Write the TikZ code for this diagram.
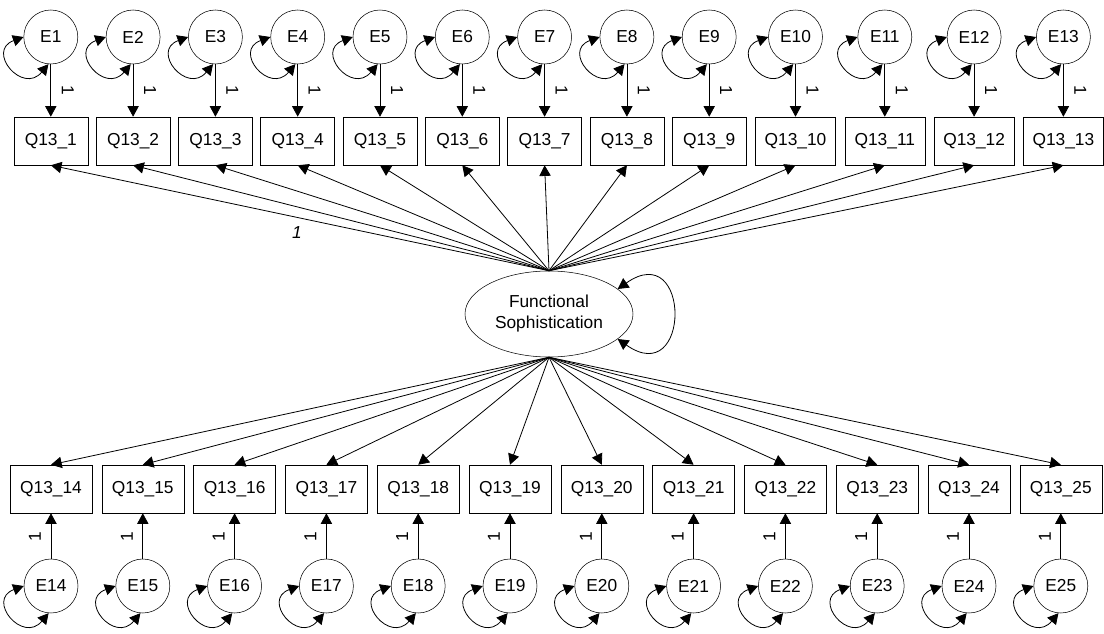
\documentclass[tikz,border=0pt]{standalone}
\usepackage{fontspec}
\setmainfont{Liberation Sans}
\usetikzlibrary{arrows.meta,shapes.geometric}

\begin{document}
\begin{tikzpicture}[x=0.75pt,y=0.75pt,
  font=\fontsize{13}{15.75}\selectfont,
  obsBox/.style={draw, rectangle, minimum width=55.5pt, minimum height=36pt, inner sep=0pt},
  errCircle/.style={draw, circle, minimum size=40.5pt, inner sep=0pt},
  latentEllipse/.style={draw, ellipse, minimum width=126pt, minimum height=64.5pt, inner sep=0pt, align=center},
  pathArrow/.style={-{Triangle[length=8pt,width=8.5pt]}, line width=0.6pt},
  covLoop/.style={{Triangle[length=8pt,width=8.5pt]}-{Triangle[length=8pt,width=8.5pt]}, line width=0.6pt}
]
  \useasboundingbox (0,0) rectangle (1104,633);

  % Draw the latent factor
  \node[latentEllipse] (fs) at (549,319) {Functional\\Sophistication};
  \draw[covLoop] (fs.20) to[out=35,in=-35,looseness=4.6] (fs.-20);

  % Fixed weight of the first loading
  \node (wFirst) at (297,400) {\textit{1}};

  % Top row of indicators with their errors
  \foreach \i in {1,...,13} {
    \ifnum\i<10
      \pgfmathsetmacro{\xPos}{50.8+82.3*(\i-1)}
      \def\boxWidth{55.5pt}
    \else
      \pgfmathsetmacro{\xPos}{795.5+89.3*(\i-10)}
      \def\boxWidth{60pt}
    \fi
    \node[obsBox, minimum width=\boxWidth] (q\i) at (\xPos,492) {Q13\_\i};
    \node[errCircle] (e\i) at (\xPos,596) {E\i};
    \node[rotate=-90] (w\i) at (\xPos+17,543) {1};
    \draw[pathArrow] (e\i) -- (q\i);
    \draw[covLoop] (e\i.180) to[out=200,in=230,looseness=2.8] (e\i.265);
    \draw[pathArrow] (fs.north) -- (q\i.south);
  }

  % Bottom row of indicators with their errors
  \foreach \i in {14,...,25} {
    \pgfmathsetmacro{\xPos}{51+91.8*(\i-14)}
    \node[obsBox, minimum width=61.5pt] (q\i) at (\xPos,144) {Q13\_\i};
    \node[errCircle] (e\i) at (\xPos,47) {E\i};
    \node[rotate=90] (w\i) at (\xPos-16,96) {1};
    \draw[pathArrow] (e\i) -- (q\i);
    \draw[covLoop] (e\i.180) to[out=200,in=230,looseness=2.8] (e\i.265);
    \draw[pathArrow] (fs.south) -- (q\i.north);
  }

\end{tikzpicture}
\end{document}
